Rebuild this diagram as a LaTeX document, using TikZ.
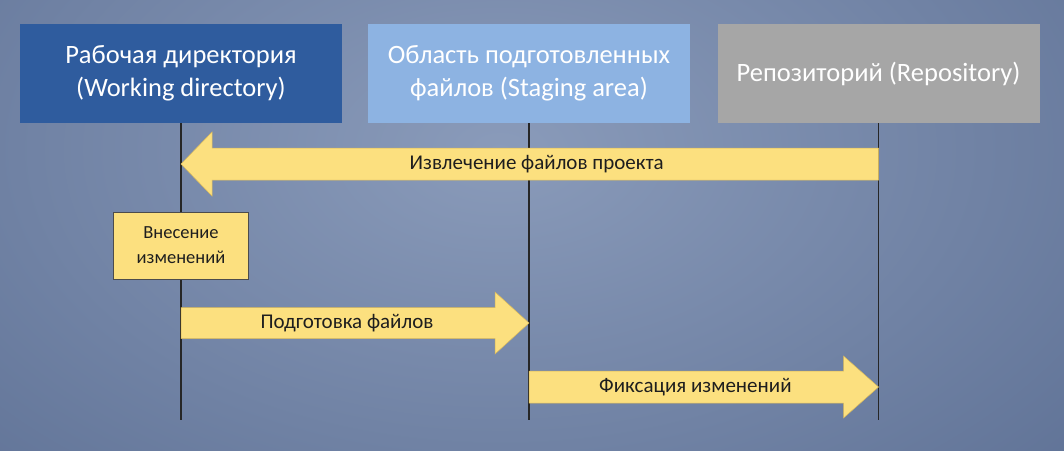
\documentclass[tikz,border=0pt]{standalone}
\usepackage{fontspec}
\setmainfont{Carlito}
\usetikzlibrary{calc}
\definecolor{bgin}{HTML}{8A9BBA}
\definecolor{bgout}{HTML}{44587F}
\definecolor{wdblue}{HTML}{2F5C9E}
\definecolor{stblue}{HTML}{8DB3E2}
\definecolor{repgray}{HTML}{A6A6A6}
\definecolor{ylw}{HTML}{FCE07F}
\definecolor{ylwline}{HTML}{D8B85A}
\definecolor{txtdark}{HTML}{1E1E1E}
\tikzset{
  hdr/.style={rectangle, minimum width=322pt, minimum height=99pt, inner sep=0pt,
    text=white, align=center, font=\fontsize{26.5}{33}\selectfont},
  lifeline/.style={draw=black!85, line width=1.1pt},
  barrow/.style={fill=ylw, draw=ylwline, line width=0.5pt, line join=miter},
  atext/.style={text=txtdark, font=\fontsize{21}{25}\selectfont, inner sep=0pt},
  notebox/.style={rectangle, fill=ylw, draw=black!70, line width=0.6pt,
    minimum width=135pt, minimum height=67pt, inner sep=0pt, align=center,
    text=txtdark, font=\fontsize{18.5}{25}\selectfont}
}
\begin{document}
\begin{tikzpicture}[x=1pt,y=-1pt]
\useasboundingbox (0,0) rectangle (1064,450);
\begin{scope}
  \clip (0,0) rectangle (1064,450);
  \shade[inner color=bgin, outer color=bgout] (-800,-650) rectangle (1800,950);
\end{scope}
% header boxes
\node[hdr, fill=wdblue] (wd) at (181,73.5) {Рабочая директория\\(Working directory)};
\node[hdr, fill=stblue] (st) at (529,73.5) {Область подготовленных\\файлов (Staging area)};
\node[hdr, fill=repgray] (rp) at (878.5,73.5) {Репозиторий (Repository)};
% lifelines
\coordinate (bot) at (0,420);
\draw[lifeline] (wd.south) -- (wd.south |- bot);
\draw[lifeline] (st.south) -- (st.south |- bot);
\draw[lifeline] (rp.south) -- (rp.south |- bot);
% arrow 1 : repository -> working directory
\coordinate (y1) at (0,164);
\coordinate (a1t) at (rp.south |- y1);
\coordinate (a1h) at (wd.south |- y1);
\draw[barrow] ($(a1t)+(0,-16)$) -- ($(a1h)+(31,-16)$) -- ($(a1h)+(31,-32)$) -- (a1h)
  -- ($(a1h)+(31,32)$) -- ($(a1h)+(31,16)$) -- ($(a1t)+(0,16)$) -- cycle;
\node[atext] (t1) at ($(a1t)!0.49!(a1h)$) {Извлечение файлов проекта};
% note box
\node[notebox] (note) at (181,245.5) {Внесение\\изменений};
% arrow 2 : working directory -> staging
\coordinate (y2) at (0,323);
\coordinate (a2t) at (wd.south |- y2);
\coordinate (a2h) at (st.south |- y2);
\draw[barrow] ($(a2t)+(0,-15.5)$) -- ($(a2h)+(-34,-15.5)$) -- ($(a2h)+(-34,-31)$) -- (a2h)
  -- ($(a2h)+(-34,31)$) -- ($(a2h)+(-34,15.5)$) -- ($(a2t)+(0,15.5)$) -- cycle;
\node[atext] (t2) at ($(a2t)!0.477!(a2h)$) {Подготовка файлов};
% arrow 3 : staging -> repository
\coordinate (y3) at (0,387);
\coordinate (a3t) at (st.south |- y3);
\coordinate (a3h) at (rp.south |- y3);
\draw[barrow] ($(a3t)+(0,-16)$) -- ($(a3h)+(-35,-16)$) -- ($(a3h)+(-35,-31)$) -- (a3h)
  -- ($(a3h)+(-35,31)$) -- ($(a3h)+(-35,16)$) -- ($(a3t)+(0,16)$) -- cycle;
\node[atext] (t3) at ($(a3t)!0.476!(a3h)$) {Фиксация изменений};
\end{tikzpicture}
\end{document}
